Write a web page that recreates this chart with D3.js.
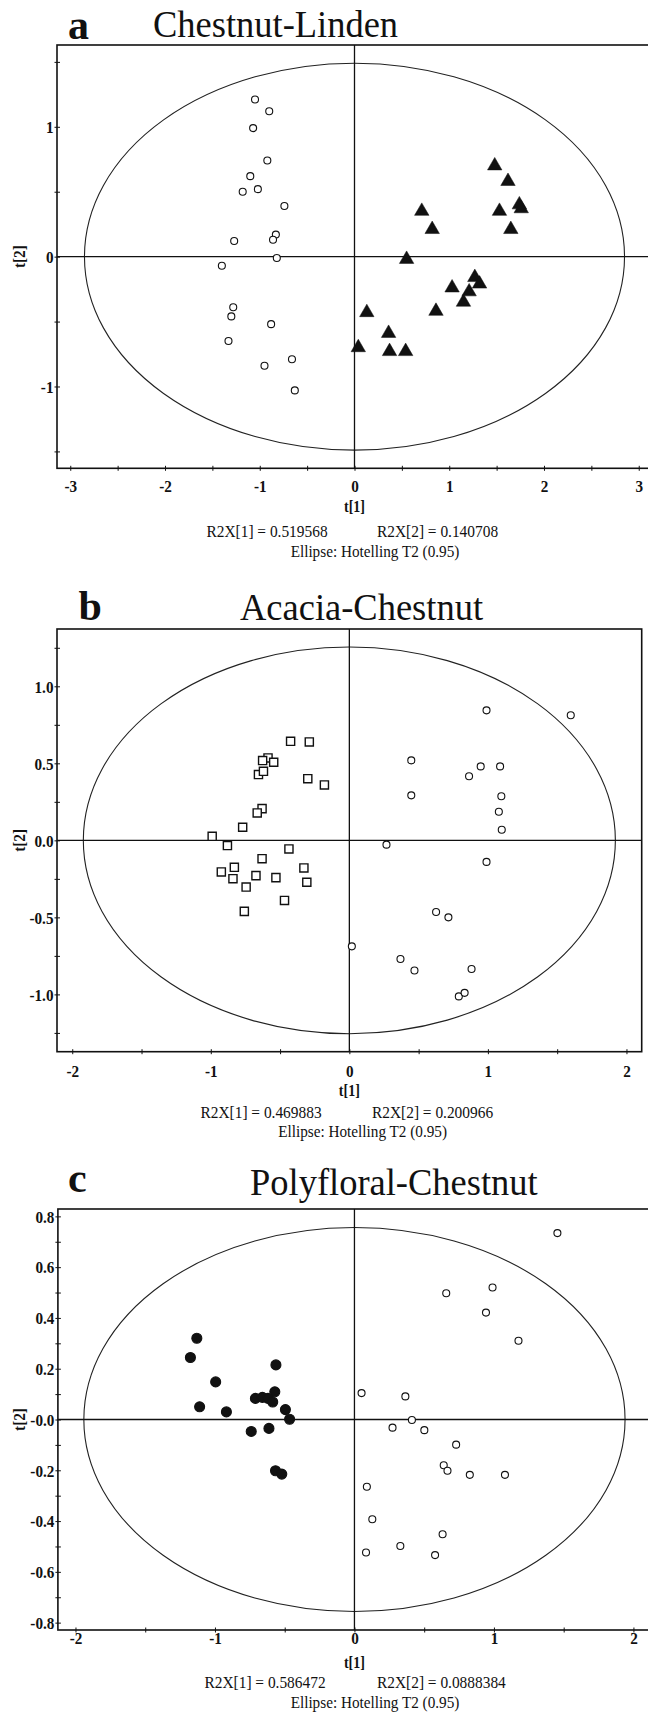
<!DOCTYPE html>
<html>
<head>
<meta charset="utf-8">
<script src="https://cdn.jsdelivr.net/npm/d3@7"></script>
<style>
  body { margin: 0; background: #fff; }
  text { font-family: "Liberation Serif", "Times New Roman", serif; fill: #111; }
</style>
</head>
<body>
<script>
// Score values (t[1], t[2])
var chestnutA = [[-1.05,1.21],[-0.90,1.12],[-1.07,0.99],[-0.92,0.74],[-1.10,0.62],[-1.02,0.52],[-1.18,0.50],
  [-0.74,0.39],[-0.83,0.17],[-0.86,0.13],[-1.27,0.12],[-0.82,-0.01],[-1.40,-0.07],[-1.28,-0.39],[-1.30,-0.46],
  [-0.88,-0.52],[-1.33,-0.65],[-0.66,-0.79],[-0.95,-0.84],[-0.63,-1.03]];
var lindenA = [[1.48,0.70],[1.62,0.58],[0.71,0.35],[1.53,0.35],[1.74,0.40],[1.76,0.37],[1.65,0.21],[0.82,0.21],
  [0.55,-0.02],[1.27,-0.16],[1.32,-0.21],[1.03,-0.24],[1.21,-0.27],[1.15,-0.35],[0.13,-0.43],[0.86,-0.42],
  [0.36,-0.59],[0.04,-0.70],[0.37,-0.73],[0.54,-0.73]];

var acaciaB = [[-0.424,0.643],[-0.289,0.639],[-0.587,0.535],[-0.626,0.518],[-0.546,0.507],[-0.656,0.427],
  [-0.62,0.448],[-0.30,0.40],[-0.18,0.36],[-0.63,0.206],[-0.665,0.178],[-0.77,0.085],[-0.99,0.026],[-0.88,-0.034],
  [-0.436,-0.056],[-0.63,-0.119],[-0.83,-0.175],[-0.328,-0.179],[-0.924,-0.205],[-0.84,-0.249],[-0.674,-0.229],
  [-0.53,-0.242],[-0.307,-0.272],[-0.745,-0.303],[-0.468,-0.39],[-0.758,-0.461]];
var chestnutB = [[0.99,0.844],[1.598,0.812],[0.447,0.519],[0.948,0.48],[1.088,0.48],[0.864,0.416],[0.447,0.292],
  [1.097,0.286],[1.079,0.186],[1.10,0.069],[0.268,-0.028],[0.99,-0.14],[0.626,-0.465],[0.715,-0.50],[0.018,-0.688],
  [0.369,-0.77],[0.47,-0.845],[0.882,-0.835],[0.79,-1.013],[0.832,-0.99]];

var polyfloralC = [[-1.13,0.32],[-1.176,0.244],[-0.563,0.215],[-0.995,0.148],[-0.571,0.109],[-0.71,0.083],
  [-0.66,0.087],[-0.62,0.083],[-0.586,0.069],[-1.11,0.05],[-0.918,0.03],[-0.495,0.039],[-0.465,0.001],
  [-0.74,-0.047],[-0.613,-0.035],[-0.566,-0.202],[-0.521,-0.215]];
var chestnutC = [[1.455,0.734],[0.658,0.497],[0.99,0.52],[0.943,0.421],[1.176,0.31],[0.051,0.104],[0.365,0.091],
  [0.412,-0.002],[0.273,-0.032],[0.501,-0.042],[0.729,-0.099],[0.64,-0.18],[0.667,-0.202],[0.827,-0.218],
  [1.079,-0.218],[0.089,-0.265],[0.128,-0.393],[0.632,-0.452],[0.083,-0.524],[0.329,-0.498],[0.578,-0.534]];

// Hotelling T2 ellipse semi-axes (t[1], t[2])
var ellipseA = [2.85, 1.49];
var ellipseB = [1.92, 1.255];
var ellipseC = [1.94, 0.756];

// tick values and labels
var xTicksA = [-3,-2.5,-2,-1.5,-1,-0.5,0,0.5,1,1.5,2,2.5,3];
var xLabelsA = ['-3','','-2','','-1','','0','','1','','2','','3'];
var yTicksA = [-1.5,-1,-0.5,0,0.5,1,1.5];
var yLabelsA = ['','-1','','0','','1',''];
var xTicksBC = [-2,-1.5,-1,-0.5,0,0.5,1,1.5,2];
var xLabelsBC = ['-2','','-1','','0','','1','','2'];
var yTicksB = [-1.25,-1,-0.75,-0.5,-0.25,0,0.25,0.5,0.75,1,1.25];
var yLabelsB = ['','-1.0','','-0.5','','0.0','','0.5','','1.0',''];
var yTicksC = [-0.8,-0.7,-0.6,-0.5,-0.4,-0.3,-0.2,-0.1,0,0.1,0.2,0.3,0.4,0.5,0.6,0.7,0.8];
var yLabelsC = ['-0.8','','-0.6','','-0.4','','-0.2','','-0.0','','0.2','','0.4','','0.6','','0.8'];

var letters = ['a', 'b', 'c'];
var titles = ['Chestnut-Linden', 'Acacia-Chestnut', 'Polyfloral-Chestnut'];
var r2x1 = ['0.519568', '0.469883', '0.586472'];
var r2x2 = ['0.140708', '0.200966', '0.0888384'];

var w = 648;
var h = 1712;

var svg = d3.select('body')
            .append('svg')
            .attr('width', w)
            .attr('height', h);

// the original type is a slightly narrow Times, so squeeze it a little
function label(str, x, y, size, sx, anchor, bold) {
  return svg.append('text').text(str)
    .attr('transform', 'translate(' + x + ',' + y + ') scale(' + sx + ',1)')
    .attr('text-anchor', anchor || 'start')
    .attr('font-size', size + 'px')
    .attr('font-weight', bold ? 'bold' : 'normal');
}

var panels = [
  { left: 57, right: 652, top: 45, bottom: 468.3, xMax: 3.14, yMax: 1.63,
    xTicks: xTicksA, xLabels: xLabelsA, yTicks: yTicksA, yLabels: yLabelsA, ellipse: ellipseA,
    letterX: 68, letterY: 39, titleX: 153, titleY: 36.5, labelOff: 24,
    t1Y: 511.5, r2Y: 536.5, r2X1: 206.5, r2X2: 377, elY: 556.5, elX: 375,
    series: [{ data: chestnutA, shape: 'circle' }, { data: lindenA, shape: 'triangle' }] },
  { left: 57, right: 641.7, top: 629, bottom: 1051.7, xMax: 2.11, yMax: 1.372,
    xTicks: xTicksBC, xLabels: xLabelsBC, yTicks: yTicksB, yLabels: yLabelsB, ellipse: ellipseB,
    letterX: 78.5, letterY: 620, titleX: 240, titleY: 620, labelOff: 25,
    t1Y: 1095.5, r2Y: 1118, r2X1: 200.5, r2X2: 372, elY: 1137, elX: 362.6,
    series: [{ data: acaciaB, shape: 'square' }, { data: chestnutB, shape: 'circle' }] },
  { left: 57.9, right: 651, top: 1209, bottom: 1630, xMax: 2.126, yMax: 0.829,
    xTicks: xTicksBC, xLabels: xLabelsBC, yTicks: yTicksC, yLabels: yLabelsC, ellipse: ellipseC,
    letterX: 68, letterY: 1191.5, titleX: 250, titleY: 1195, labelOff: 13.5,
    t1Y: 1668, r2Y: 1688, r2X1: 204.5, r2X2: 377, elY: 1708, elX: 375,
    series: [{ data: polyfloralC, shape: 'dot' }, { data: chestnutC, shape: 'circle' }] }
];

panels.forEach((p, i) => {
  var x = d3.scaleLinear().domain([-p.xMax, p.xMax]).range([p.left, p.right]);
  var y = d3.scaleLinear().domain([-p.yMax, p.yMax]).range([p.bottom, p.top]);
  var g = svg.append('g');

  // ellipse
  g.append('ellipse')
    .attr('cx', x(0)).attr('cy', y(0))
    .attr('rx', x(p.ellipse[0]) - x(0))
    .attr('ry', y(0) - y(p.ellipse[1]))
    .attr('fill', 'none').attr('stroke', '#222').attr('stroke-width', 1.1);

  // zero lines
  g.append('line').attr('x1', p.left).attr('x2', p.right).attr('y1', y(0)).attr('y2', y(0))
    .attr('stroke', '#111').attr('stroke-width', 1.3);
  g.append('line').attr('x1', x(0)).attr('x2', x(0)).attr('y1', p.top).attr('y2', p.bottom)
    .attr('stroke', '#111').attr('stroke-width', 1.3);

  // frame
  g.append('rect')
    .attr('x', p.left).attr('y', p.top)
    .attr('width', p.right - p.left).attr('height', p.bottom - p.top)
    .attr('fill', 'none').attr('stroke', '#111').attr('stroke-width', 1.6);

  // axes
  var xAxis = g.append('g')
    .attr('transform', 'translate(0,' + p.bottom + ')')
    .call(d3.axisBottom(x).tickValues(p.xTicks).tickFormat((d, k) => p.xLabels[k]).tickSize(3));
  xAxis.select('.domain').remove();
  xAxis.selectAll('line').attr('y1', -2.5).attr('y2', 2.5).attr('stroke', '#111');
  xAxis.selectAll('text')
    .attr('y', null).attr('dy', null)
    .attr('transform', 'translate(0,' + p.labelOff + ') scale(0.92,1)')
    .attr('font-family', '"Liberation Serif", serif')
    .attr('font-size', '16.5px').attr('font-weight', 'bold').attr('fill', '#111');

  var yAxis = g.append('g')
    .attr('transform', 'translate(' + p.left + ',0)')
    .call(d3.axisLeft(y).tickValues(p.yTicks).tickFormat((d, k) => p.yLabels[k]).tickSize(3));
  yAxis.select('.domain').remove();
  yAxis.selectAll('line').attr('x1', -2.5).attr('x2', 3).attr('stroke', '#111');
  yAxis.selectAll('text')
    .attr('x', null).attr('dy', '0.35em')
    .attr('transform', 'translate(-3.5,0) scale(0.92,1)')
    .attr('font-family', '"Liberation Serif", serif')
    .attr('font-size', '16.5px').attr('font-weight', 'bold').attr('fill', '#111');

  // points
  p.series.forEach(s => {
    var sel = g.selectAll(null).data(s.data).enter();
    if (s.shape === 'circle' || s.shape === 'dot') {
      sel.append('circle')
        .attr('cx', d => x(d[0])).attr('cy', d => y(d[1]))
        .attr('r', s.shape === 'dot' ? 5 : 3.5)
        .attr('fill', s.shape === 'dot' ? '#111' : '#fff')
        .attr('stroke', '#111').attr('stroke-width', 1.1);
    } else {
      var sym = d3.symbol()
        .type(s.shape === 'triangle' ? d3.symbolTriangle : d3.symbolSquare)
        .size(s.shape === 'triangle' ? 90 : 66);
      sel.append('path')
        .attr('d', sym)
        .attr('transform', d => 'translate(' + x(d[0]) + ',' + y(d[1]) + ')')
        .attr('fill', s.shape === 'triangle' ? '#111' : '#fff')
        .attr('stroke', '#111').attr('stroke-width', s.shape === 'triangle' ? 0.5 : 1.4);
    }
  });

  // letter and title
  label(letters[i], p.letterX, p.letterY, 42, 1, 'start', true);
  label(titles[i], p.titleX, p.titleY, 38, 0.96, 'start', false);

  // axis titles
  svg.append('text').text('t[2]')
    .attr('transform', 'translate(25,' + y(0) + ') rotate(-90) scale(0.9,1)')
    .attr('text-anchor', 'middle')
    .attr('font-size', '17px').attr('font-weight', 'bold');
  label('t[1]', x(0), p.t1Y, 16.5, 0.85, 'middle', true);

  // model summary
  label('R2X[1] = ' + r2x1[i], p.r2X1, p.r2Y, 17.5, 0.88);
  label('R2X[2] = ' + r2x2[i], p.r2X2, p.r2Y, 17.5, 0.88);
  label('Ellipse: Hotelling T2 (0.95)', p.elX, p.elY, 17.5, 0.87, 'middle');
});
</script>
</body>
</html>
